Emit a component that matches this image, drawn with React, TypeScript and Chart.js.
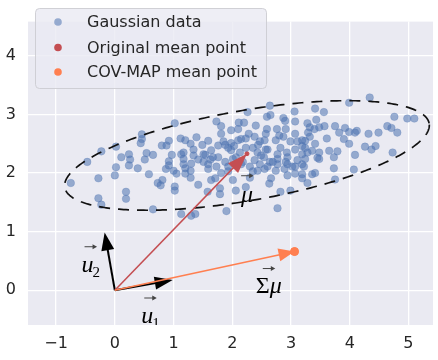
import React, { useEffect, useRef } from 'react';
import { Chart, registerables } from 'chart.js';

Chart.register(...registerables);

// ---- data ----
const X_TICKS = [-1, 0, 1, 2, 3, 4, 5];
const Y_TICKS = [0, 1, 2, 3, 4];
const X_MIN = -1.479;
const X_MAX = 5.418;
const Y_MIN = -0.594;
const Y_MAX = 4.585;

const GAUSS_X = [
  1.73, 1.02, 0.46, 0.46, 0.44, 0.02, -0.23, -0.47, 0.24, 0.26, 0.24, 0.11, 0.51, 0.02, 0.39, 0.65,
  0.80, 0.92, 1.12, 1.20, 1.29, 1.39, 1.49, 1.59, -0.75, -0.28, 0.0, 0.73, 0.81, 0.87, 0.92, 0.97,
  1.17, 1.17, 1.20, 1.30, 1.42, 1.54, 1.59, 1.05, 1.20, 1.29, 1.42, 1.64,
  0.58, 0.19, 0.19, -0.28, -0.23, 0.65, 0.78, 1.13, 1.30, 1.37, 1.02, 0.92, 1.00, 1.02,
  0.88, 0.54, 1.13,
  2.64, 3.06, 2.26, 2.59, 2.65, 2.87, 2.90, 1.81, 2.11, 2.20, 2.40, 1.98, 2.59, 2.76, 2.91, 3.07,
  2.28, 2.38, 1.81, 2.15, 2.44, 2.55, 2.74, 2.87, 2.99, 3.07, 3.19, 1.76, 1.88, 1.98, 2.10, 2.23,
  1.17, 1.34, 1.51, 1.64, 1.98, 2.13, 2.43, 2.60, 2.77, 2.93, 3.07, 3.19,
  4.34, 3.99, 3.41, 3.56, 4.76, 4.98, 5.10, 3.43, 3.28, 3.32, 3.40, 3.48, 3.57, 3.75, 3.92, 3.99,
  4.12, 4.09, 3.82, 4.32, 4.49, 4.64, 4.71, 4.81, 3.29, 3.32, 3.61, 3.90, 3.99, 4.26, 4.37, 4.44,
  4.73, 4.09, 3.41, 3.24, 3.24, 3.28, 3.36, 3.48, 3.65, 3.79,
  3.73, 3.73, 4.07, 3.75, 3.45, 3.41, 3.36, 3.28, 3.24, 3.22, 3.19, 3.48,
  2.99, 2.82, 2.77, 1.90, 2.06, 2.23, 1.79, 1.79, 1.58, 1.29, 2.30, 2.63, 2.66, 2.94, 3.07, 3.19,
  1.71, 1.81, 2.01, 1.59, 2.43, 2.55, 2.74, 2.89, 3.02,
  1.63, 1.76, 1.88, 2.01, 2.38, 2.49, 2.64, 2.77, 2.94, 3.11,
  1.73, 1.93, 2.15, 2.30, 2.47, 2.60, 2.77, 2.94, 3.07, 3.19,
  2.03, 2.57, 3.19,
  1.85, 1.93, 2.06, 2.18, 2.35, 2.47, 2.54, 2.69, 2.82, 2.91, 1.93, 2.35, 1.67, 1.51, 1.34, 2.23,
  2.57, 2.80, 3.11, 2.10,
];

const GAUSS_Y = [
  2.88, 2.85, 2.66, 2.58, 2.51, 2.45, 2.37, 2.19, 2.32, 2.23, 2.13, 2.27, 2.23, 2.10, 2.08, 2.31,
  2.47, 2.55, 2.59, 2.56, 2.50, 2.61, 2.48, 2.55, 1.83, 1.91, 1.96, 1.83, 1.88, 2.07, 2.13, 2.31,
  2.24, 2.15, 2.08, 2.16, 2.23, 2.31, 2.15, 1.99, 1.99, 2.04, 1.80, 1.88,
  1.98, 1.68, 1.56, 1.57, 1.46, 1.38, 1.79, 1.30, 1.27, 1.30, 1.70, 2.20, 2.04, 1.77,
  2.47, 2.34, 2.32,
  3.15, 3.05, 3.04, 2.96, 2.99, 2.94, 2.89, 2.80, 2.86, 2.86, 2.81, 2.73, 2.75, 2.75, 2.75, 2.88,
  2.67, 2.62, 2.67, 2.58, 2.48, 2.56, 2.56, 2.62, 2.54, 2.67, 2.56, 2.47, 2.48, 2.51, 2.56, 2.59,
  2.35, 2.40, 2.32, 2.39, 2.39, 2.35, 2.35, 2.40, 2.32, 2.35, 2.40, 2.32,
  3.29, 3.20, 3.10, 3.04, 2.96, 2.93, 2.93, 2.91, 2.85, 2.78, 2.75, 2.78, 2.80, 2.80, 2.77, 2.70,
  2.72, 2.69, 2.69, 2.67, 2.69, 2.80, 2.77, 2.69, 2.69, 2.62, 2.59, 2.58, 2.50, 2.45, 2.40, 2.46,
  2.35, 2.31, 2.50, 2.55, 2.43, 2.35, 2.38, 2.35, 2.38, 2.37,
  2.27, 2.08, 2.06, 1.89, 2.26, 2.00, 1.98, 1.83, 2.24, 2.11, 1.98, 2.24,
  1.70, 1.68, 1.40, 1.35, 1.70, 1.76, 1.74, 1.64, 1.68, 1.92, 1.92, 1.82, 1.91, 1.96, 1.99, 1.91,
  1.91, 2.00, 1.88, 2.07, 2.04, 2.07, 2.04, 2.07, 2.11,
  2.23, 2.27, 2.19, 2.24, 2.22, 2.30, 2.19, 2.24, 2.27, 2.22,
  2.11, 2.11, 2.15, 2.11, 2.15, 2.11, 2.15, 2.15, 2.11, 2.15,
  2.46, 2.40, 2.46,
  2.54, 2.43, 2.27, 2.19, 2.43, 2.54, 2.27, 2.19, 2.43, 2.19, 2.03, 2.03, 2.27, 2.19, 2.30, 2.43,
  2.67, 2.64, 2.54, 2.75,
];

const MU = [2.25, 2.33];
const SIGMA_MU = [3.06, 0.66];
const U1 = [0.985, 0.174];
const U2 = [-0.174, 0.985];
const ORIGIN = [0, 0];

const ELLIPSE_CENTER = [2.25, 2.3];
const ELLIPSE_SEMI_AXES = [3.15, 0.77];
const ELLIPSE_ANGLE_DEG = 10;

const LEGEND_LABELS = ['Gaussian data', 'Original mean point', 'COV-MAP mean point'];

// math labels: anchor = left / baseline in data units
const U1_LABEL = [0.45, -0.56];
const U2_LABEL = [-0.567, 0.315];
const MU_LABEL = [2.15, 1.51];
const SIGMA_MU_LABEL = [2.40, -0.04];

// ---- styles ----
const BG = '#EAEAF2';
const BLUE = 'rgba(76,114,176,0.55)';
const RED = '#C44E52';
const CORAL = '#FF7F50';
const TEXT = '#262626';
const MATH_FONT = '"Liberation Serif", "DejaVu Serif", serif';

function fmt(v: number) {
  return v < 0 ? '\u2212' + Math.abs(v) : String(v);
}

function drawArrow(ctx: CanvasRenderingContext2D, x0: number, y0: number, x1: number, y1: number,
  color: string, lw: number, headLen: number, headW: number) {
  const dx = x1 - x0, dy = y1 - y0;
  const L = Math.hypot(dx, dy);
  const ux = dx / L, uy = dy / L;
  const bx = x1 - ux * headLen, by = y1 - uy * headLen;
  ctx.save();
  ctx.strokeStyle = color;
  ctx.lineWidth = lw;
  ctx.lineCap = 'butt';
  ctx.beginPath();
  ctx.moveTo(x0, y0);
  ctx.lineTo(bx + ux * 2, by + uy * 2);
  ctx.stroke();
  ctx.fillStyle = color;
  ctx.beginPath();
  ctx.moveTo(x1, y1);
  ctx.lineTo(bx - uy * headW / 2, by + ux * headW / 2);
  ctx.lineTo(bx + uy * headW / 2, by - ux * headW / 2);
  ctx.closePath();
  ctx.fill();
  ctx.restore();
}

function drawVecAccent(ctx: CanvasRenderingContext2D, cx: number, cy: number) {
  ctx.save();
  ctx.strokeStyle = '#444';
  ctx.fillStyle = '#444';
  ctx.lineWidth = 1;
  ctx.beginPath();
  ctx.moveTo(cx - 6, cy);
  ctx.lineTo(cx + 3, cy);
  ctx.stroke();
  ctx.beginPath();
  ctx.moveTo(cx + 6.5, cy);
  ctx.lineTo(cx + 2, cy - 2.5);
  ctx.lineTo(cx + 2, cy + 2.5);
  ctx.closePath();
  ctx.fill();
  ctx.restore();
}

const bgPlugin = {
  id: 'bgPlugin',
  beforeDraw(chart: any) {
    const { ctx, chartArea: a } = chart;
    ctx.save();
    ctx.fillStyle = BG;
    ctx.fillRect(a.left, a.top, a.right - a.left, a.bottom - a.top);
    ctx.restore();
  },
};

const overlayPlugin = {
  id: 'overlayPlugin',
  afterDatasetsDraw(chart: any) {
    const { ctx, chartArea: a } = chart;
    const xs = chart.scales.x, ys = chart.scales.y;
    const px = (v: number) => xs.getPixelForValue(v);
    const py = (v: number) => ys.getPixelForValue(v);
    ctx.save();
    ctx.beginPath();
    ctx.rect(a.left, a.top, a.right - a.left, a.bottom - a.top);
    ctx.clip();

    // ellipse
    const th = (ELLIPSE_ANGLE_DEG * Math.PI) / 180;
    const c = Math.cos(th), s = Math.sin(th);
    ctx.save();
    ctx.strokeStyle = '#111';
    ctx.lineWidth = 1.7;
    ctx.setLineDash([11, 8]);
    ctx.beginPath();
    for (let i = 0; i <= 360; i++) {
      const t = (i * Math.PI) / 180;
      const ex = ELLIPSE_SEMI_AXES[0] * Math.cos(t);
      const ey = ELLIPSE_SEMI_AXES[1] * Math.sin(t);
      const X = ELLIPSE_CENTER[0] + ex * c - ey * s;
      const Y = ELLIPSE_CENTER[1] + ex * s + ey * c;
      if (i === 0) ctx.moveTo(px(X), py(Y));
      else ctx.lineTo(px(X), py(Y));
    }
    ctx.stroke();
    ctx.restore();

    const ox = px(ORIGIN[0]), oy = py(ORIGIN[1]);
    drawArrow(ctx, ox, oy, px(U1[0]), py(U1[1]), '#000', 2, 18, 13);
    drawArrow(ctx, ox, oy, px(U2[0]), py(U2[1]), '#000', 2, 18, 13);
    drawArrow(ctx, ox, oy, px(MU[0]), py(MU[1]), RED, 1.5, 20, 14);
    drawArrow(ctx, ox, oy, px(SIGMA_MU[0]), py(SIGMA_MU[1]), CORAL, 1.6, 16, 13);

    // orange dot on top
    ctx.fillStyle = CORAL;
    ctx.beginPath();
    ctx.arc(px(SIGMA_MU[0]), py(SIGMA_MU[1]), 4, 0, Math.PI * 2);
    ctx.fill();

    // labels
    ctx.fillStyle = '#000';
    ctx.textBaseline = 'alphabetic';
    ctx.textAlign = 'left';
    const italic = `italic 24px ${MATH_FONT}`;
    const upright = `24px ${MATH_FONT}`;
    const sub = `15px ${MATH_FONT}`;

    const drawU = (pos: number[], idx: string) => {
      const bx = px(pos[0]), by = py(pos[1]);
      ctx.font = italic;
      ctx.fillText('u', bx, by);
      const w = ctx.measureText('u').width;
      ctx.font = sub;
      ctx.fillText(idx, bx + w - 1, by + 5);
      drawVecAccent(ctx, bx + w / 2 + 3, by - 25);
    };
    drawU(U2_LABEL, '2');
    drawU(U1_LABEL, '1');

    {
      const bx = px(MU_LABEL[0]), by = py(MU_LABEL[1]);
      ctx.font = italic;
      ctx.fillText('\u03bc', bx, by);
      const w = ctx.measureText('\u03bc').width;
      drawVecAccent(ctx, bx + w / 2, by - 26);
    }
    {
      const bx = px(SIGMA_MU_LABEL[0]), by = py(SIGMA_MU_LABEL[1]);
      ctx.font = upright;
      ctx.fillText('\u03a3', bx, by);
      const w1 = ctx.measureText('\u03a3').width;
      ctx.font = italic;
      ctx.fillText('\u03bc', bx + w1, by);
      const w2 = ctx.measureText('\u03bc').width;
      drawVecAccent(ctx, bx + (w1 + w2) / 2, by - 24);
    }
    ctx.restore();
  },
  afterDraw(chart: any) {
    const { ctx } = chart;
    const lx = 35, ly = 8, lw = 231, lh = 80;
    ctx.save();
    ctx.beginPath();
    ctx.roundRect(lx + 0.5, ly + 0.5, lw, lh, 4);
    ctx.fillStyle = 'rgba(234,234,242,0.8)';
    ctx.fill();
    ctx.strokeStyle = 'rgba(204,204,210,0.9)';
    ctx.lineWidth = 1;
    ctx.stroke();
    const colors = [BLUE, RED, CORAL];
    const rows = [22, 47.5, 72];
    ctx.font = '16px "DejaVu Sans"';
    ctx.textBaseline = 'middle';
    ctx.textAlign = 'left';
    LEGEND_LABELS.forEach((lab, i) => {
      ctx.fillStyle = colors[i];
      ctx.beginPath();
      ctx.arc(58, rows[i], 3.8, 0, Math.PI * 2);
      ctx.fill();
      ctx.fillStyle = TEXT;
      ctx.fillText(lab, 87, rows[i] + 1);
    });
    ctx.restore();
  },
};

export default function App() {
  const ref = useRef<HTMLCanvasElement | null>(null);
  useEffect(() => {
    if (!ref.current) return;
    const tickFont = { family: 'DejaVu Sans', size: 16 };
    const chart = new Chart(ref.current, {
      type: 'scatter',
      data: {
        datasets: [
          {
            label: LEGEND_LABELS[0],
            data: GAUSS_X.map((x, i) => ({ x, y: GAUSS_Y[i] })),
            backgroundColor: BLUE,
            borderColor: 'rgba(76,114,176,0.3)',
            borderWidth: 0.8,
            pointRadius: 3.8,
          },
          {
            label: LEGEND_LABELS[1],
            data: [{ x: MU[0], y: MU[1] }],
            backgroundColor: RED,
            borderColor: RED,
            pointRadius: 2,
          },
          {
            label: LEGEND_LABELS[2],
            data: [{ x: SIGMA_MU[0], y: SIGMA_MU[1] }],
            backgroundColor: CORAL,
            borderColor: CORAL,
            pointRadius: 4,
          },
        ],
      },
      options: {
        responsive: false,
        animation: false,
        devicePixelRatio: 1,
        layout: { padding: { left: 0, right: 1, top: 0, bottom: 0 } },
        plugins: { legend: { display: false }, tooltip: { enabled: false } },
        scales: {
          x: {
            type: 'linear',
            min: X_MIN,
            max: X_MAX,
            afterBuildTicks: (s: any) => { s.ticks = X_TICKS.map((v) => ({ value: v })); },
            afterFit: (s: any) => { s.height = 35; },
            grid: { color: '#ffffff', lineWidth: 1.3, drawTicks: false },
            border: { display: false },
            ticks: { padding: 9, color: TEXT, font: tickFont, callback: (v: any) => fmt(Number(v)) },
          },
          y: {
            type: 'linear',
            min: Y_MIN,
            max: Y_MAX,
            afterBuildTicks: (s: any) => { s.ticks = Y_TICKS.map((v) => ({ value: v })); },
            afterFit: (s: any) => { s.width = 28; },
            grid: { color: '#ffffff', lineWidth: 1.3, drawTicks: false },
            border: { display: false },
            ticks: { padding: 12, color: TEXT, font: tickFont, callback: (v: any) => fmt(Number(v)) },
          },
        },
      },
      plugins: [bgPlugin, overlayPlugin],
    } as any);
    return () => chart.destroy();
  }, []);
  return (
    <div style={{ position: 'fixed', left: 0, top: 0, width: 438, height: 360, background: '#fff' }}>
      <canvas ref={ref} width={438} height={360} style={{ width: 438, height: 360, display: 'block' }} />
    </div>
  );
}
